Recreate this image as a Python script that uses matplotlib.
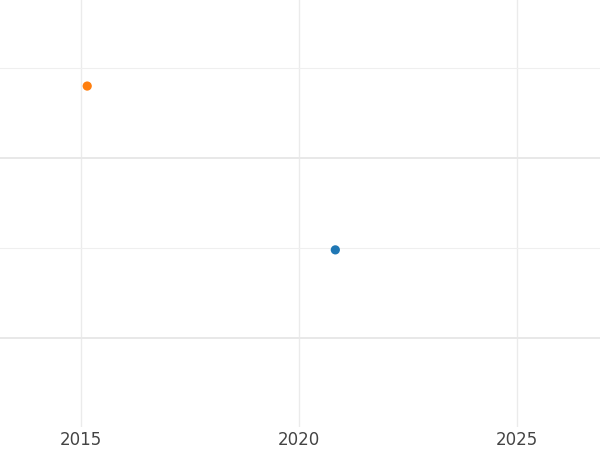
import matplotlib
matplotlib.use('Agg')
import matplotlib.pyplot as plt
from matplotlib.ticker import MultipleLocator

# decimal years and values
years = [2020.83, 2015.14]
values = [1.49, 2.40]
colors = ['#1f77b4', '#ff7f0e']

x_ticks = [2015, 2020, 2025]

plt.rcParams['font.family'] = 'DejaVu Sans'

fig = plt.figure(figsize=(6, 4.5), dpi=100)
ax = fig.add_axes([0, 23 / 450, 1, 427 / 450])

ax.scatter(years, values, c=colors, s=44, zorder=3, linewidths=0)

ax.set_xlim(2013.14, 2026.9)
ax.set_ylim(0.506, 2.878)
ax.set_xticks(x_ticks)
ax.set_xticklabels([str(t) for t in x_ticks])
ax.yaxis.set_major_locator(MultipleLocator(1))
ax.yaxis.set_minor_locator(MultipleLocator(0.5))
ax.tick_params(axis='both', which='both', length=0, labelsize=12, labelcolor='#444444', pad=3)
ax.tick_params(axis='y', labelleft=False)

ax.grid(True, axis='x', color='#ebebeb', linewidth=1.0)
ax.grid(True, axis='y', which='major', color='#e8e8e8', linewidth=1.4)
ax.grid(True, axis='y', which='minor', color='#efefef', linewidth=0.8)
ax.set_axisbelow(True)
for s in ax.spines.values():
    s.set_visible(False)

fig.savefig('out.png', dpi=100)
